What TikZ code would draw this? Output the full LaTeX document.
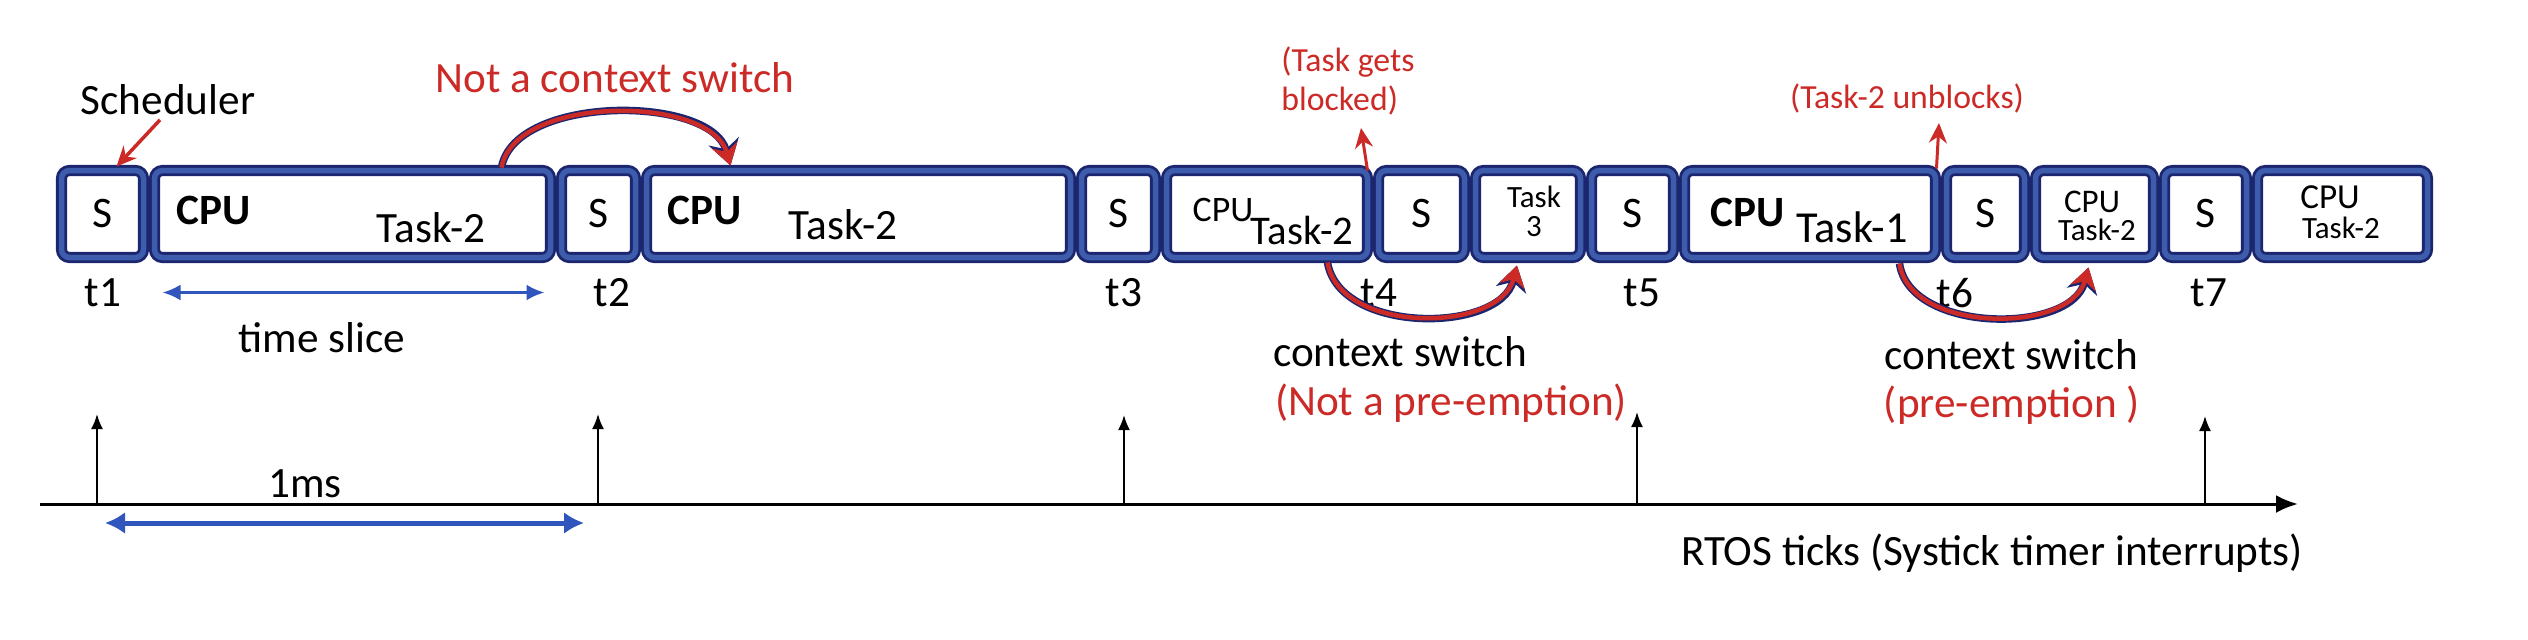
\documentclass[tikz,border=0pt]{standalone}
\usepackage{fontspec}
\setmainfont{Carlito}
\usetikzlibrary{arrows.meta,calc}
\definecolor{navyD}{RGB}{28,38,110}
\definecolor{bandB}{RGB}{62,92,172}
\definecolor{redT}{RGB}{204,42,38}
\definecolor{tblue}{RGB}{48,86,190}
\begin{document}
\begin{tikzpicture}[x=0.1mm,y=-0.1mm,blk/.style={draw=navyD,double=bandB,double distance=0.55mm,line width=0.28mm,rounded corners=0.8mm,fill=white,inner sep=0pt,outer sep=0pt,minimum height=8.7mm,font=\fontsize{12.4}{14}\selectfont},lbl/.style={inner sep=0pt,font=\fontsize{12.3}{14}\selectfont},note/.style={lbl,text=redT},smallnote/.style={inner sep=0pt,text=redT,font=\fontsize{9.6}{11}\selectfont,align=left},redarr/.style={draw=redT,line width=0.35mm,-{Stealth[length=2mm,width=1.8mm]}},swarc/.style={draw=redT,line width=0.45mm,-{Stealth[length=2.1mm,width=2.6mm]},preaction={draw=navyD,line width=0.75mm,-{Stealth[length=2.5mm,width=3.1mm]}}},tick/.style={draw=black,line width=0.2mm,-{Latex[length=1.5mm,width=1.2mm]}},span/.style={draw=tblue,line width=0.3mm,{Latex[length=1.8mm,width=1.6mm]}-{Latex[length=1.8mm,width=1.6mm]}}]
\def\ym{214};
\def\ty{293};
\def\ay{504};

\useasboundingbox (0,0) rectangle (2528,640);

\node[blk,minimum width=8.2mm] (s1) at (102.5,\ym) {S};
\node[blk,minimum width=39.6mm] (c1) at (352.5,\ym) {};
\node[blk,minimum width=7.4mm] (s2) at (598.5,\ym) {S};
\node[blk,minimum width=42.4mm] (c2) at (858.5,\ym) {};
\node[blk,minimum width=7.4mm] (s3) at (1118.5,\ym) {S};
\node[blk,minimum width=20.1mm] (c3) at (1267,\ym) {};
\node[blk,minimum width=8.6mm] (s4) at (1421.5,\ym) {S};
\node[blk,minimum width=10.5mm] (c4) at (1528,\ym) {};
\node[blk,minimum width=8.2mm] (s5) at (1632.5,\ym) {S};
\node[blk,minimum width=25.1mm] (c5) at (1810,\ym) {};
\node[blk,minimum width=7.8mm] (s6) at (1985.5,\ym) {S};
\node[blk,minimum width=11.8mm] (c6) at (2094.5,\ym) {};
\node[blk,minimum width=8.2mm] (s7) at (2205.5,\ym) {S};
\node[blk,minimum width=17mm] (c7) at (2342.5,\ym) {};

\node[lbl,font=\fontsize{12.3}{14}\selectfont\bfseries] (c1cpu) at (214,210) {CPU};
\node[lbl] (c1task) at (431,228) {Task-2};
\node[lbl,font=\fontsize{12.3}{14}\selectfont\bfseries] (c2cpu) at (705,210) {CPU};
\node[lbl] (c2task) at (843,225) {Task-2};
\node[lbl,font=\fontsize{10.2}{12}\selectfont] (c3cpu) at (1223,210) {CPU};
\node[lbl,font=\fontsize{11.6}{14}\selectfont] (c3task) at (1302,230) {Task-2};
\node[lbl,font=\fontsize{8.8}{10}\selectfont] (c4task) at (1534,197) {Task};
\node[lbl,font=\fontsize{8.8}{10}\selectfont] (c4num) at (1534,227) {3};
\node[lbl,font=\fontsize{12.3}{14}\selectfont\bfseries] (c5cpu) at (1748,212) {CPU};
\node[lbl,font=\fontsize{12.6}{14}\selectfont] (c5task) at (1852,227) {Task-1};
\node[lbl,font=\fontsize{9.4}{11}\selectfont] (c6cpu) at (2092,202) {CPU};
\node[lbl,font=\fontsize{8.8}{10}\selectfont] (c6task) at (2097,230) {Task-2};
\node[lbl,font=\fontsize{10}{12}\selectfont] (c7cpu) at (2330,197) {CPU};
\node[lbl,font=\fontsize{8.8}{10}\selectfont] (c7task) at (2341,228) {Task-2};

\node[lbl] (t1) at (103,\ty) {t1};
\node[lbl] (t2) at (612,\ty) {t2};
\node[lbl] (t3) at (1124,\ty) {t3};
\node[lbl] (t4) at (1379,\ty) {t4};
\node[lbl] (t5) at (1642,\ty) {t5};
\node[lbl] (t6) at (1955,\ty) {t6};
\node[lbl] (t7) at (2209,\ty) {t7};

\node[lbl] (sched) at (168,100) {Scheduler};
\draw[redarr] ($(sched.south)+(-8,4)$) -- ($(s1.north)+(14,-4)$);

\node[note] (nocs) at (615,78) {Not a context switch};
\draw[swarc] ($(c1.north east)+(-49,-3)$) .. controls +(13,-73) and +(-20,-71) .. ($(c2.north west)+(84,-5)$);

\draw[span] ($(c1.south west)+(8,35)$) -- ($(c1.south east)+(-6,35)$);
\node[lbl] (slice) at (322,338) {time slice};

\node[smallnote] (blk) at (1348,81) {(Task gets\\blocked)};
\coordinate (blkTip) at (1361,128);
\draw[redarr,line width=0.3mm] (c3.north east) -- (blkTip);

\node[smallnote] (unblk) at (1907,98) {(Task-2 unblocks)};
\coordinate (unblkTip) at (1939,123);
\draw[redarr,line width=0.3mm] ($(c5.north east)+(1,-2)$) -- (unblkTip);

\draw[swarc] ($(c3.south east)+(-40,5)$) .. controls +(12,72) and +(-17,68) .. ($(c4.south)+(-11,8)$);
\node[lbl] (cs1) at (1400,352) {context switch};
\node[note] (np1) at (1451,403) {(Not a pre-emption)};

\draw[swarc] ($(c5.south east)+(-36,6)$) .. controls +(10,70) and +(-18,67) .. ($(c6.south)+(-6,10)$);
\node[lbl] (cs2) at (2011,355) {context switch};
\node[note] (np2) at (2012,405) {(pre-emption )};

\coordinate (ax0) at (40,\ay);
\coordinate (ax1) at (2298,\ay);
\draw[line width=0.3mm,-{Latex[length=2.2mm,width=1.8mm]}] (ax0) -- (ax1);
\coordinate (k1) at (97,\ay);
\coordinate (k2) at (598,\ay);
\coordinate (k3) at (1124,\ay);
\coordinate (k4) at (1637,\ay);
\coordinate (k5) at (2205,\ay);
\draw[tick] (k1) -- ++(0,-90);
\draw[tick] (k2) -- ++(0,-90);
\draw[tick] (k3) -- ++(0,-89);
\draw[tick] (k4) -- ++(0,-92);
\draw[tick] (k5) -- ++(0,-88);

\node[lbl] (ms) at (305,484) {1ms};
\draw[span,line width=0.5mm,{Latex[length=2mm,width=2.2mm]}-{Latex[length=2mm,width=2.2mm]}] ($(k1)+(8,19)$) -- ($(k2)+(-14,19)$);

\node[lbl] (rtos) at (1992,553) {RTOS ticks (Systick timer interrupts)};
\end{tikzpicture}
\end{document}
